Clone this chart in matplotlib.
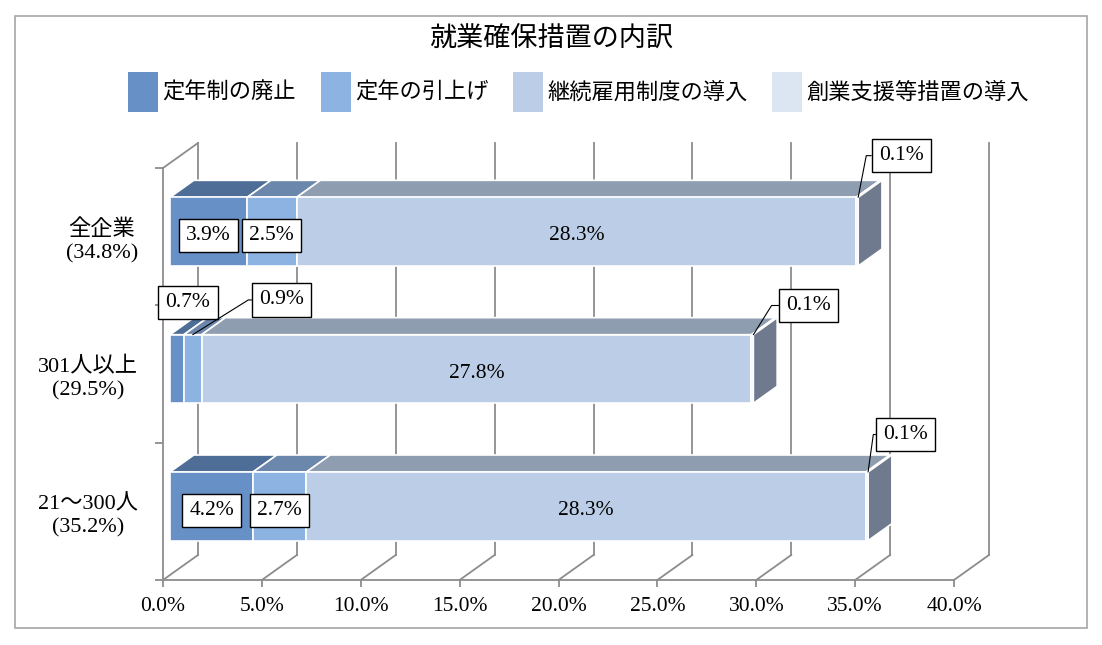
import matplotlib
matplotlib.use("Agg")
import matplotlib.pyplot as plt
from matplotlib.patches import Patch, Polygon, Rectangle

plt.rcParams['font.family'] = ['Liberation Serif', 'Noto Sans CJK JP']

# data
categories = ['21～300人\n(35.2%)', '301人以上\n(29.5%)', '全企業\n(34.8%)']
series_names = ['定年制の廃止', '定年の引上げ', '継続雇用制度の導入', '創業支援等措置の導入']
abolish = [4.2, 0.7, 3.9]
raise_age = [2.7, 0.9, 2.5]
continued = [28.3, 27.8, 28.3]
startup = [0.1, 0.1, 0.1]
series = [abolish, raise_age, continued, startup]
xticks = [0, 5, 10, 15, 20, 25, 30, 35, 40]

front_colors = ['#6790C6', '#8DB3E2', '#BCCEE7', '#DCE6F2']
top_colors = ['#4E6E98', '#6B87AC', '#8E9DB0', '#A8B0BA']
side_color = '#6F7A8F'
grid_col = '#8C8C8C'

# pseudo-3d geometry (data units of the front plane)
DX, DY = 1.77, 0.182      # full depth offset
d0, d1 = 0.2, 0.88        # bar front / back depth
h = 0.5                   # bar height

fig = plt.figure(figsize=(11.02, 6.45), dpi=100)
fig.patches.append(Rectangle((15 / 1102, 17 / 645), 1072 / 1102, 612 / 645,
                             transform=fig.transFigure, fill=False,
                             edgecolor='#A6A6A6', lw=1.2))
ax = fig.add_axes([163 / 1102, 65 / 645, 791 / 1102, 412 / 645])
ax.set_xlim(0, 40)
ax.set_ylim(0, 3)

# walls and gridlines
for x in xticks:
    ax.plot([x + DX, x + DX], [DY, 3 + DY], color=grid_col, lw=1.3, zorder=1, clip_on=False)
    ax.plot([x, x + DX], [0, DY], color=grid_col, lw=1.3, zorder=1, clip_on=False)
ax.plot([0, DX], [3, 3 + DY], color=grid_col, lw=1.3, zorder=1, clip_on=False)

for s in ['top', 'right']:
    ax.spines[s].set_visible(False)
for s in ['left', 'bottom']:
    ax.spines[s].set_color(grid_col)
    ax.spines[s].set_linewidth(1.3)

ax.set_xticks(xticks)
ax.set_xticklabels([f'{x:.1f}%' for x in xticks], fontsize=15.5)
ax.set_yticks([0.5, 1.5, 2.5])
ax.set_yticklabels(categories, fontsize=16, multialignment='center', linespacing=1.3)
ax.set_yticks([0, 1, 2, 3], minor=True)
ax.tick_params(axis='x', length=5, color=grid_col, width=1.3, pad=7)
ax.tick_params(axis='y', which='major', length=0, pad=18)
ax.tick_params(axis='y', which='minor', length=6, color=grid_col, width=1.3)

dd = d1 - d0
for i in range(len(categories)):
    yc = i + 0.5 + d0 * DY
    top = yc + h / 2
    left = d0 * DX
    for k, vals in enumerate(series):
        v = vals[i]
        ax.barh(yc, v, left=left, height=h, color=front_colors[k],
                edgecolor='white', lw=1.2, zorder=3)
        tp = Polygon([(left, top), (left + v, top), (left + v + dd * DX, top + dd * DY),
                      (left + dd * DX, top + dd * DY)], closed=True,
                     facecolor=top_colors[k], edgecolor='white', lw=1.2, zorder=2)
        ax.add_patch(tp)
        left += v
    sp = Polygon([(left, top - h), (left + dd * DX, top - h + dd * DY),
                  (left + dd * DX, top + dd * DY), (left, top)], closed=True,
                 facecolor=side_color, edgecolor='white', lw=1.2, zorder=2)
    ax.add_patch(sp)

box = dict(boxstyle='square,pad=0.33', fc='white', ec='black', lw=1)
lab_fs = 15.5

# value labels
for i in range(len(categories)):
    yc = i + 0.5 + d0 * DY
    top = yc + h / 2
    x0 = d0 * DX
    a, r, c, s = abolish[i], raise_age[i], continued[i], startup[i]
    if a >= 2:
        ax.annotate(f'{a:.1f}%', xy=(x0 + a / 2, yc), xytext=(0, -3),
                    textcoords='offset points', ha='center', va='center',
                    fontsize=lab_fs, bbox=box, zorder=6)
        ax.annotate(f'{r:.1f}%', xy=(x0 + a + r / 2, yc), xytext=(0, -3),
                    textcoords='offset points', ha='center', va='center',
                    fontsize=lab_fs, bbox=box, zorder=6)
    else:
        ax.annotate(f'{a:.1f}%', xy=(x0 + a / 2, top), xytext=(8, 23),
                    textcoords='offset points', ha='center', va='center',
                    fontsize=lab_fs, bbox=box, zorder=6)
        ax.annotate(f'{r:.1f}%', xy=(x0 + a + r / 2, top), xytext=(64, 25),
                    textcoords='offset points', ha='center', va='center',
                    fontsize=lab_fs, bbox=box, zorder=6,
                    arrowprops=dict(arrowstyle='-', color='black', lw=0.8,
                                    relpos=(0, 0.5), shrinkA=0, shrinkB=0,
                                    connectionstyle='angle,angleA=0,angleB=32,rad=0'))
    ax.annotate(f'{c:.1f}%', xy=(x0 + a + r + c / 2, yc), xytext=(0, -3),
                textcoords='offset points', ha='center', va='center',
                fontsize=lab_fs, zorder=6)
    end = x0 + a + r + c + s
    off = [(27, 27), (40, 21), (31, 30)][i]
    ang = [82, 58, 79][i]
    ax.annotate(f'{s:.1f}%', xy=(end, top), xytext=off,
                textcoords='offset points', ha='center', va='center',
                fontsize=lab_fs, bbox=box, zorder=6,
                arrowprops=dict(arrowstyle='-', color='black', lw=0.8,
                                relpos=(0, 0.5), shrinkA=0, shrinkB=0,
                                connectionstyle=f'angle,angleA=0,angleB={ang},rad=0'))

fig.text(0.5, 1 - 38 / 645, '就業確保措置の内訳', ha='center', va='center',
         fontsize=19.5, family=['Noto Sans CJK JP'])

handles = [Patch(facecolor=c, edgecolor='none') for c in front_colors]
fig.legend(handles, series_names, loc='center', bbox_to_anchor=(0.525, 1 - 92 / 645),
           ncol=4, frameon=False, handlelength=1.35, handleheight=2.4,
           handletextpad=0.2, columnspacing=1.1, prop={'family': 'Noto Sans CJK JP', 'size': 16})

fig.savefig('out.png', dpi=100)
